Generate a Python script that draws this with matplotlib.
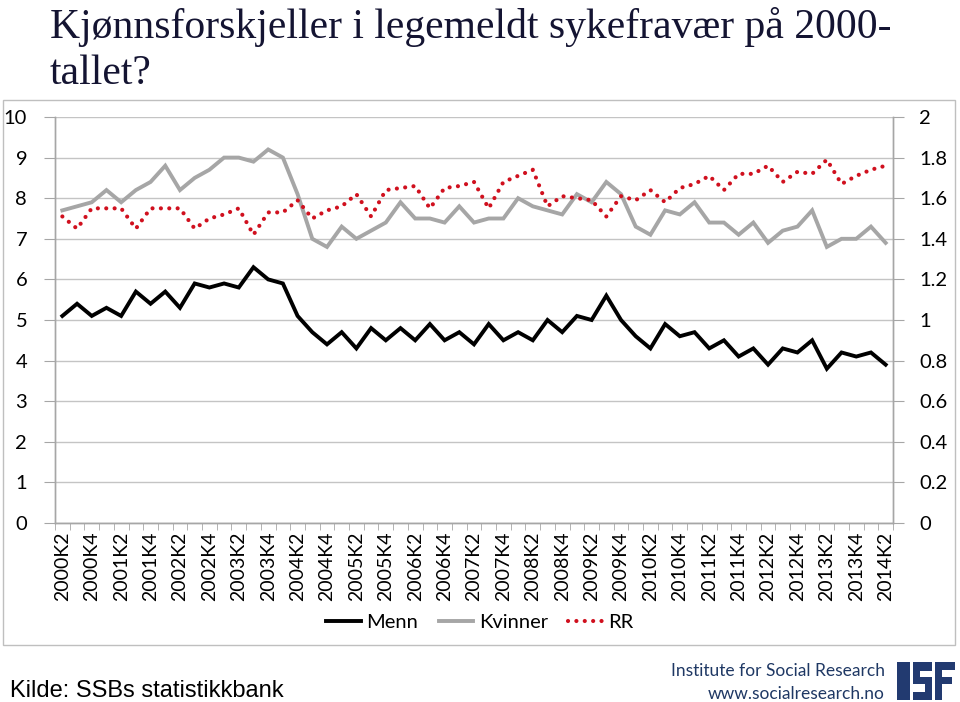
import matplotlib.pyplot as plt
from matplotlib.patches import Rectangle

# kvartaler fra 2000K2 til 2014K2
kvartaler = [f"{aar}K{k}" for aar in range(2000, 2015) for k in range(1, 5)]
kvartaler = kvartaler[1:kvartaler.index("2014K2") + 1]

menn = [5.1, 5.4, 5.1, 5.3, 5.1, 5.7, 5.4, 5.7, 5.3, 5.9,
        5.8, 5.9, 5.8, 6.3, 6.0, 5.9, 5.1, 4.7, 4.4, 4.7,
        4.3, 4.8, 4.5, 4.8, 4.5, 4.9, 4.5, 4.7, 4.4, 4.9,
        4.5, 4.7, 4.5, 5.0, 4.7, 5.1, 5.0, 5.6, 5.0, 4.6,
        4.3, 4.9, 4.6, 4.7, 4.3, 4.5, 4.1, 4.3, 3.9, 4.3,
        4.2, 4.5, 3.8, 4.2, 4.1, 4.2, 3.9]

kvinner = [7.7, 7.8, 7.9, 8.2, 7.9, 8.2, 8.4, 8.8, 8.2, 8.5,
           8.7, 9.0, 9.0, 8.9, 9.2, 9.0, 8.1, 7.0, 6.8, 7.3,
           7.0, 7.2, 7.4, 7.9, 7.5, 7.5, 7.4, 7.8, 7.4, 7.5,
           7.5, 8.0, 7.8, 7.7, 7.6, 8.1, 7.9, 8.4, 8.1, 7.3,
           7.1, 7.7, 7.6, 7.9, 7.4, 7.4, 7.1, 7.4, 6.9, 7.2,
           7.3, 7.7, 6.8, 7.0, 7.0, 7.3, 6.9]

rr = [1.51, 1.45, 1.55, 1.55, 1.55, 1.45, 1.55, 1.55, 1.55, 1.45,
      1.50, 1.52, 1.55, 1.42, 1.53, 1.53, 1.59, 1.50, 1.54, 1.56,
      1.62, 1.51, 1.64, 1.65, 1.66, 1.55, 1.65, 1.66, 1.68, 1.55,
      1.68, 1.71, 1.74, 1.56, 1.61, 1.60, 1.59, 1.51, 1.61, 1.59,
      1.64, 1.58, 1.65, 1.67, 1.71, 1.64, 1.72, 1.72, 1.76, 1.68,
      1.73, 1.72, 1.79, 1.67, 1.71, 1.74, 1.76]

venstre_ticks = [0, 1, 2, 3, 4, 5, 6, 7, 8, 9, 10]
hoyre_ticks = [0, 0.2, 0.4, 0.6, 0.8, 1.0, 1.2, 1.4, 1.6, 1.8, 2.0]
hoyre_etiketter = ["0", "0.2", "0.4", "0.6", "0.8", "1", "1.2", "1.4", "1.6", "1.8", "2"]

tittel = ["Kjønnsforskjeller i legemeldt sykefravær på 2000-", "tallet?"]

W, H = 960, 702
fig = plt.figure(figsize=(W / 100, H / 100), dpi=100)

aksefarge = "#a6a6a6"
gridfarge = "#c4c4c4"
navy = "#1f3864"

# ramme rundt diagrammet
fig.add_artist(Rectangle((3 / W, 1 - 645 / H), 952 / W, 545 / H, transform=fig.transFigure,
                         fill=False, edgecolor="#bfbfbf", lw=1))

ax = fig.add_axes([55 / W, 1 - 523 / H, 838 / W, 406 / H])
ax2 = ax.twinx()

x = list(range(len(kvartaler)))
l1, = ax.plot(x, menn, color="black", lw=2.8, solid_joinstyle="miter", zorder=4)
l2, = ax.plot(x, kvinner, color="#a6a6a6", lw=2.8, solid_joinstyle="miter", zorder=3)
l3, = ax2.plot(x, rr, color="#d0101e", lw=3.0, linestyle=(0, (0.01, 2.0)),
               dash_capstyle="round", zorder=5)

ax.set_xlim(-0.5, len(kvartaler) - 0.5)
ax.set_ylim(0, 10)
ax2.set_ylim(0, 2)

ax.set_yticks(venstre_ticks)
ax.set_yticklabels([str(v) for v in venstre_ticks])
ax2.set_yticks(hoyre_ticks)
ax2.set_yticklabels(hoyre_etiketter)

ax.grid(axis="y", color=gridfarge, lw=1)
ax.set_axisbelow(True)

ax.set_xticks(x[::2])
ax.set_xticklabels(kvartaler[::2], rotation=90, fontsize=14, family="Lato")
ax.set_xticks([i - 0.5 for i in range(len(kvartaler) + 1)], minor=True)
ax.tick_params(axis="x", which="major", length=0, pad=6)
ax.tick_params(axis="x", which="minor", length=5, color=aksefarge, direction="out")

ax.tick_params(axis="y", length=8, color=aksefarge, pad=12, labelsize=14.5)
ax2.tick_params(axis="y", length=8, color=aksefarge, pad=11, labelsize=14.5)
for t in ax.get_yticklabels() + ax2.get_yticklabels():
    t.set_family("Lato")

for a in (ax, ax2):
    a.spines["top"].set_visible(False)
    for s in ("left", "right", "bottom"):
        a.spines[s].set_color(aksefarge)
        a.spines[s].set_linewidth(1)

fig.legend([l1, l2, l3], ["Menn", "Kvinner", "RR"], loc="center", ncol=3,
           bbox_to_anchor=(0.5, 1 - 622 / H), frameon=False,
           prop={"family": "Lato", "size": 14.5}, handlelength=1.7,
           handletextpad=0.3, columnspacing=1.0)

# tittel i to linjer
fig.text(50 / W, 1 - 38 / H, tittel[0], family="Liberation Serif", fontsize=30,
         color="#141432", ha="left", va="baseline")
fig.text(50 / W, 1 - 84 / H, tittel[1], family="Liberation Serif", fontsize=30,
         color="#141432", ha="left", va="baseline")

fig.text(10 / W, 1 - 697 / H, "Kilde: SSBs statistikkbank", family="Liberation Sans",
         fontsize=17, color="black", ha="left", va="baseline")
fig.text(885 / W, 1 - 671 / H, "Institute for Social Research", family="Lato",
         fontsize=12.5, color=navy, ha="right", va="center")
fig.text(885 / W, 1 - 694 / H, "www.socialresearch.no", family="Lato",
         fontsize=12.5, color=navy, ha="right", va="center")

# ISF-logo som blokker
logo = [(897, 662, 910, 700),
        (913, 662, 932, 671), (913, 662, 920, 684), (913, 677, 932, 684),
        (925, 677, 932, 700), (913, 692, 932, 700),
        (935, 662, 942, 700), (935, 662, 955, 670), (935, 677, 952, 684)]
for x0, y0, x1, y1 in logo:
    fig.add_artist(Rectangle((x0 / W, 1 - y1 / H), (x1 - x0) / W, (y1 - y0) / H,
                             transform=fig.transFigure, facecolor="#223a70", edgecolor="none"))

fig.savefig("out.png", dpi=100)
